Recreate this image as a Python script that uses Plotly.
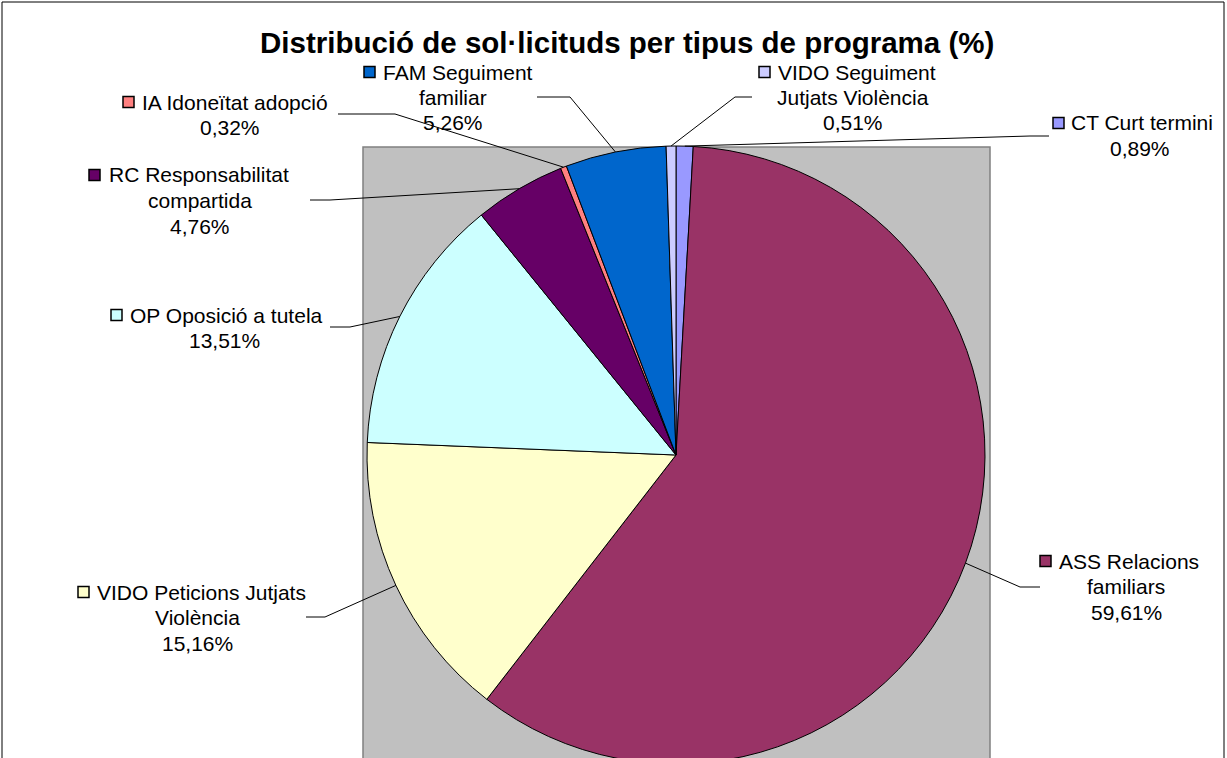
import math
import plotly.graph_objects as go

# ---------------- data ----------------
categories = [
    "CT Curt termini",
    "ASS Relacions<br>familiars",
    "VIDO Peticions Jutjats<br>Violència",
    "OP Oposició a tutela",
    "RC Responsabilitat<br>compartida",
    "IA Idoneïtat adopció",
    "FAM Seguiment<br>familiar",
    "VIDO Seguiment<br>Jutjats Violència",
]
values = [0.89, 59.61, 15.16, 13.51, 4.76, 0.32, 5.26, 0.51]
colors = ["#9999FF", "#993366", "#FFFFCC", "#CCFFFF", "#660066", "#FF8080", "#0066CC", "#CCCCFF"]
title_text = "Distribució de sol·licituds per tipus de programa (%)"

# ---------------- layout (pixels) ----------------
W, H = 1227, 766
CX, CY, R = 676, 455, 309          # pie centre / radius in px
FONT = "Liberation Sans, Arial, sans-serif"
LABEL_SIZE = 21
LINE_H = 25.5

# per label: key-square x, first-line text left x, centre x of other lines, first line y, elbow, end
label_pos = [
    dict(key=1053, left=1069, cx=1140, y0=123, elbow=(1030, 136), end=(1049, 136)),
    dict(key=1040, left=1057, cx=1126, y0=561, elbow=(1020, 587), end=(1040, 587)),
    dict(key=78,   left=95,   cx=197,  y0=592, elbow=(325, 617), end=(306, 617)),
    dict(key=111,  left=128,  cx=224,  y0=315, elbow=(350, 327), end=(330, 327)),
    dict(key=89,   left=107,  cx=200,  y0=175, elbow=(330, 200), end=(310, 200)),
    dict(key=123,  left=140,  cx=230,  y0=102, elbow=(395, 114), end=(338, 114)),
    dict(key=364,  left=381,  cx=453,  y0=72,  elbow=(570, 97),  end=(537, 97)),
    dict(key=759,  left=776,  cx=853,  y0=72,  elbow=(735, 97),  end=(752, 97)),
]


def px(x):
    return x / W


def py(y):
    return 1 - y / H


fig = go.Figure()
fig.add_trace(go.Pie(
    labels=[c.replace("<br>", " ") for c in categories],
    values=values,
    sort=False,
    direction="clockwise",
    rotation=0,
    marker=dict(colors=colors, line=dict(color="#000000", width=1)),
    textinfo="none",
    hovertemplate="%{label}: %{value:.2f}%<extra></extra>",
    showlegend=False,
    domain=dict(x=[px(CX - R), px(CX + R)], y=[py(CY + R), py(CY - R)]),
))

shapes = []
annotations = []

# chart-area frame
shapes.append(dict(type="rect", xref="paper", yref="paper", x0=px(2), x1=px(1224), y0=py(H + 20), y1=py(2),
                   line=dict(color="#000000", width=1), fillcolor="rgba(0,0,0,0)", layer="below"))
# grey plot area
shapes.append(dict(type="rect", xref="paper", yref="paper", x0=px(363), x1=px(990), y0=py(H + 20), y1=py(147),
                   line=dict(color="#808080", width=1.5), fillcolor="#C0C0C0", layer="below"))

# title
annotations.append(dict(text="<b>" + title_text + "</b>", xref="paper", yref="paper", x=px(627), y=py(42),
                        xanchor="center", yanchor="middle", showarrow=False,
                        font=dict(family=FONT, size=29.5, color="#000000")))

total = sum(values)
cum = 0.0
for cat, val, col, pos in zip(categories, values, colors, label_pos):
    mid = (cum + val / 2) / total * 2 * math.pi
    cum += val
    ax = CX + R * math.sin(mid)
    ay = CY - R * math.cos(mid)
    lines = cat.split("<br>") + [f"{val:.2f}".replace(".", ",") + "%"]
    # leader line
    ex, ey = pos["elbow"]
    tx, ty = pos["end"]
    shapes.append(dict(type="path", xref="paper", yref="paper",
                       path=f"M {px(ax)},{py(ay)} L {px(ex)},{py(ey)} L {px(tx)},{py(ty)}",
                       line=dict(color="#000000", width=1)))
    # legend key square
    ks = 11
    shapes.append(dict(type="rect", xref="paper", yref="paper",
                       x0=px(pos["key"]), x1=px(pos["key"] + ks),
                       y0=py(pos["y0"] + ks / 2), y1=py(pos["y0"] - ks / 2),
                       line=dict(color="#000000", width=1.5), fillcolor=col))
    for i, ln in enumerate(lines):
        y = pos["y0"] + i * LINE_H
        if i == 0:
            annotations.append(dict(text=ln, xref="paper", yref="paper", x=px(pos["left"]), y=py(y),
                                    xanchor="left", yanchor="middle", showarrow=False,
                                    font=dict(family=FONT, size=LABEL_SIZE, color="#000000")))
        else:
            annotations.append(dict(text=ln, xref="paper", yref="paper", x=px(pos["cx"]), y=py(y),
                                    xanchor="center", yanchor="middle", showarrow=False,
                                    font=dict(family=FONT, size=LABEL_SIZE, color="#000000")))

fig.update_layout(
    width=W, height=H,
    margin=dict(l=0, r=0, t=0, b=0),
    paper_bgcolor="#FFFFFF",
    plot_bgcolor="#FFFFFF",
    shapes=shapes,
    annotations=annotations,
    font=dict(family=FONT),
)

fig.write_html("out.html", config={"displayModeBar": False},
               post_script="document.body.style.margin='0';document.body.style.overflow='hidden';")
